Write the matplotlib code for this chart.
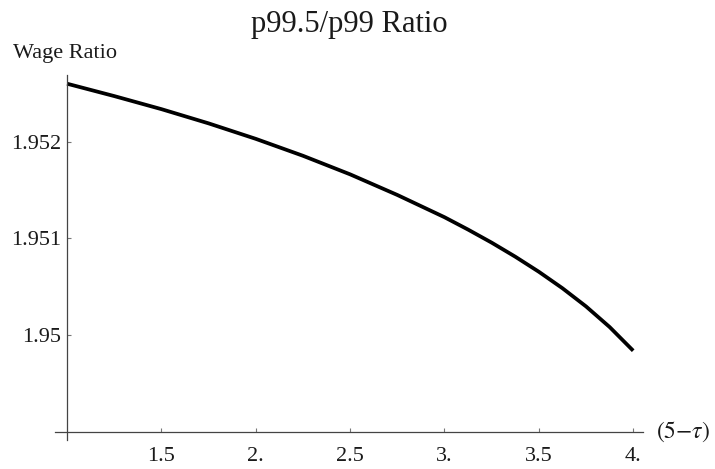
import matplotlib
matplotlib.use("Agg")
import matplotlib.pyplot as plt
from matplotlib.ticker import FixedLocator, FixedFormatter

# Data
x_vals = [1.0, 1.25, 1.5, 1.75, 2.0, 2.25, 2.5, 2.75, 3.0,
          3.125, 3.25, 3.375, 3.5, 3.625, 3.75, 3.875, 4.0]
wage_ratio = [1.952600, 1.952472, 1.952337, 1.952190, 1.952030, 1.951855,
              1.951663, 1.951450, 1.951220, 1.951092, 1.950957, 1.950812,
              1.950656, 1.950486, 1.950298, 1.950085, 1.949840]

x_ticks = [1.5, 2.0, 2.5, 3.0, 3.5, 4.0]
x_tick_labels = ["1.5", "2.", "2.5", "3.", "3.5", "4."]
y_ticks = [1.950, 1.951, 1.952]
y_tick_labels = ["1.95", "1.951", "1.952"]

title = "p99.5/p99 Ratio"
y_label = "Wage Ratio"
x_label = r"$(5{-}\tau)$"

W, H = 715, 469
plt.rcParams['font.family'] = ['Liberation Serif', 'DejaVu Serif']
plt.rcParams['mathtext.fontset'] = 'stix'
fig = plt.figure(figsize=(W / 100, H / 100), dpi=100)

# axes geometry in pixels
ax_left_px, ax_right_px = 55, 643
ax_top_px, ax_bottom_px = 75, 440
ax = fig.add_axes([ax_left_px / W, 1 - ax_bottom_px / H,
                   (ax_right_px - ax_left_px) / W, (ax_bottom_px - ax_top_px) / H])

ax.plot(x_vals, wage_ratio, color='black', lw=2.7, solid_capstyle='butt',
        solid_joinstyle='round')

ax.set_xlim(0.936, 4.052)
ax.set_ylim(1.948917, 1.95269)

for s in ['top', 'right']:
    ax.spines[s].set_visible(False)
ax.spines['left'].set_position(('data', 1.0))
ax.spines['bottom'].set_position(('data', 1.949))
for s in ['left', 'bottom']:
    ax.spines[s].set_color('#444444')
    ax.spines[s].set_linewidth(0.9)

ax.xaxis.set_major_locator(FixedLocator(x_ticks))
ax.xaxis.set_major_formatter(FixedFormatter(x_tick_labels))
ax.yaxis.set_major_locator(FixedLocator(y_ticks))
ax.yaxis.set_major_formatter(FixedFormatter(y_tick_labels))
ax.tick_params(axis='both', direction='in', length=3, width=0.8, color='#777777',
               labelsize=16, labelcolor='#1a1a1a')
ax.tick_params(axis='x', pad=11)
ax.tick_params(axis='y', pad=4.5)
ax.set_facecolor('white')

fig.text(349 / W, 1 - 32 / H, title, ha='center', va='baseline', fontsize=22, color='#1a1a1a')
fig.text(13 / W, 1 - 58 / H, y_label, ha='left', va='baseline', fontsize=16, color='#1a1a1a')
fig.text(656 / W, 1 - 432 / H, x_label, ha='left', va='center', fontsize=17, color='#1a1a1a')

fig.savefig("out.png", dpi=100, facecolor='white')
